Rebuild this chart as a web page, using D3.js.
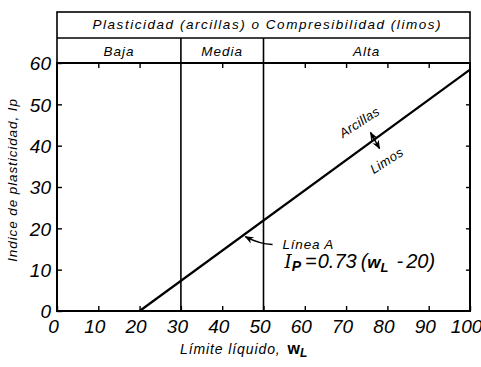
<!DOCTYPE html>
<html><head><meta charset="utf-8">
<script src="https://cdn.jsdelivr.net/npm/d3@7"></script>
<style>
body{margin:0;background:#fff;}
text{font-family:"Liberation Sans",Arial,sans-serif;font-style:italic;fill:#000;}
</style></head>
<body><svg id="c" width="481" height="367"></svg>
<script>
// Data
const xTicks = [0,10,20,30,40,50,60,70,80,90,100];
const yTicks = [0,10,20,30,40,50,60];
const aLineX = [20, 100];            // Línea A: Ip = 0.73 (wL - 20)
const aSlope = 0.73, aOffset = 20;
const dividers = [30, 50];           // liquid limit boundaries
const sections = [
  {name:"Baja", from:0, to:30},
  {name:"Media", from:30, to:50},
  {name:"Alta", from:50, to:100}
];
const headerTitle = "Plasticidad (arcillas) o Compresibilidad (limos)";
const xLabel = "Límite líquido, ";
const yLabel = "Indice de plasticidad, Ip";

const svg = d3.select("#c");
const x = d3.scaleLinear().domain([0,100]).range([57,470]);
const y = d3.scaleLinear().domain([0,60]).range([311,63]);
const hTop = 12, hMid = 38;
const FF = "'Liberation Sans',Arial,sans-serif";

// Header boxes
svg.append("rect").attr("x",x(0)).attr("y",hTop).attr("width",x(100)-x(0)).attr("height",y(60)-hTop)
  .attr("fill","none").attr("stroke","#000").attr("stroke-width",1.6);
svg.append("line").attr("x1",x(0)).attr("x2",x(100)).attr("y1",hMid).attr("y2",hMid)
  .attr("stroke","#000").attr("stroke-width",1.6);
svg.append("text").attr("x",(x(0)+x(100))/2+3).attr("y",28.5).attr("text-anchor","middle")
  .attr("font-size",13.5).attr("textLength",348).attr("lengthAdjust","spacing").text(headerTitle);
svg.selectAll(".sec").data(sections).enter().append("text")
  .attr("x",d=>x((d.from+d.to)/2)).attr("y",55.5).attr("text-anchor","middle")
  .attr("font-size",13.5).attr("letter-spacing",1).text(d=>d.name);

// Dividers (through header row 2 and plot)
svg.selectAll(".div").data(dividers).enter().append("line")
  .attr("x1",d=>x(d)).attr("x2",d=>x(d)).attr("y1",hMid).attr("y2",y(0))
  .attr("stroke","#000").attr("stroke-width",1.6);

// Plot frame
svg.append("rect").attr("x",x(0)).attr("y",y(60)).attr("width",x(100)-x(0)).attr("height",y(0)-y(60))
  .attr("fill","none").attr("stroke","#000").attr("stroke-width",2);

// Axes
const tickLine = (g)=>g.selectAll("line").attr("stroke","#000").attr("stroke-width",1.4);
const gx = svg.append("g").attr("transform",`translate(0,${y(0)})`)
  .call(d3.axisBottom(x).tickValues(xTicks).tickSize(-5).tickPadding(7).tickFormat(d3.format("d")));
gx.attr("font-family",FF).attr("font-size",19);
gx.select(".domain").remove();
gx.call(tickLine);
gx.selectAll("text").attr("font-size",19).attr("dx",-4).attr("dy","0.8em")
  .attr("font-family",FF).attr("font-style","italic");

const gy = svg.append("g").attr("transform",`translate(${x(0)},0)`)
  .call(d3.axisLeft(y).tickValues(yTicks).tickSize(-5).tickPadding(6).tickFormat(d3.format("d")));
gy.attr("font-family",FF).attr("font-size",19);
gy.select(".domain").remove();
gy.call(tickLine);
gy.selectAll("text").attr("font-size",19).attr("dy","0.36em")
  .attr("font-family",FF).attr("font-style","italic");

const gr = svg.append("g").attr("transform",`translate(${x(100)},0)`)
  .call(d3.axisRight(y).tickValues(yTicks.slice(1,-1)).tickSize(-4).tickFormat(""));
gr.select(".domain").remove(); gr.call(tickLine);

const gt = svg.append("g").attr("transform",`translate(0,${y(60)})`)
  .call(d3.axisTop(x).tickValues(xTicks.filter(v=>v>0&&v<100&&!dividers.includes(v))).tickSize(-5).tickFormat(""));
gt.select(".domain").remove(); gt.call(tickLine);

// A-line
const line = d3.line().x(d=>x(d)).y(d=>y(aSlope*(d-aOffset)));
svg.append("path").datum(aLineX).attr("d",line).attr("fill","none").attr("stroke","#000").attr("stroke-width",2.2);

// Annotations
const ang = -33;
svg.append("text").attr("transform",`translate(${x(73.2)},${y(45.7)}) rotate(${ang})`)
  .attr("text-anchor","middle").attr("dy","0.35em").attr("font-size",13).attr("letter-spacing",0.4).text("Arcillas");
svg.append("text").attr("transform",`translate(${x(79.8)},${y(36.4)}) rotate(${ang})`)
  .attr("text-anchor","middle").attr("dy","0.35em").attr("font-size",13).attr("letter-spacing",0.4).text("Limos");

// double arrow across the line
const defs = svg.append("defs");
defs.append("marker").attr("id","ah").attr("viewBox","0 0 10 10").attr("refX",9).attr("refY",5)
  .attr("markerWidth",6).attr("markerHeight",6).attr("orient","auto-start-reverse")
  .append("path").attr("d","M0,1 L10,5 L0,9 L3,5 Z").attr("fill","#000");
svg.append("line").attr("x1",x(75.9)).attr("y1",y(43.2)).attr("x2",x(78.1)).attr("y2",y(39.3))
  .attr("stroke","#000").attr("stroke-width",1.5)
  .attr("marker-start","url(#ah)").attr("marker-end","url(#ah)");

// Línea A label and arrow
svg.append("text").attr("x",x(54.6)).attr("y",y(15.0)).attr("font-size",13.5).attr("letter-spacing",0.8).text("Línea A");
svg.append("path")
  .attr("d",`M${x(52.2)},${y(16.1)} Q${x(49)},${y(16.2)} ${x(45.6)},${y(18)}`)
  .attr("fill","none").attr("stroke","#000").attr("stroke-width",1.5).attr("marker-end","url(#ah)");

// Equation
const eq = svg.append("text").attr("x",x(55.1)).attr("y",y(10.3)).attr("font-size",20);
eq.append("tspan").attr("font-family","'DejaVu Serif',serif").attr("font-size",18).text("I");
eq.append("tspan").attr("dy",3).attr("font-size",14).attr("font-weight","bold").text("P");
eq.append("tspan").attr("dy",-3).attr("dx",4).text("=");
eq.append("tspan").attr("dx",1).text("0.73");
eq.append("tspan").attr("dx",4).text("(");
eq.append("tspan").attr("font-weight","bold").attr("font-size",17).text("w");
eq.append("tspan").attr("dy",4).attr("font-size",13).attr("font-weight","bold").text("L");
eq.append("tspan").attr("dy",-4).attr("dx",8).text("-");
eq.append("tspan").attr("dx",3).text("20)");

// Axis titles
const xt = svg.append("text").attr("x",180).attr("y",354).attr("font-size",14);
xt.append("tspan").attr("letter-spacing",0.9).text(xLabel);
xt.append("tspan").attr("dx",2).attr("font-weight","bold").attr("font-style","normal").attr("font-size",16).text("w");
xt.append("tspan").attr("dy",3).attr("font-weight","bold").attr("font-size",12).text("L");

svg.append("text").attr("transform","translate(17,180) rotate(-90)").attr("text-anchor","middle")
  .attr("font-size",13.5).attr("letter-spacing",0.9).text(yLabel);
</script></body></html>
